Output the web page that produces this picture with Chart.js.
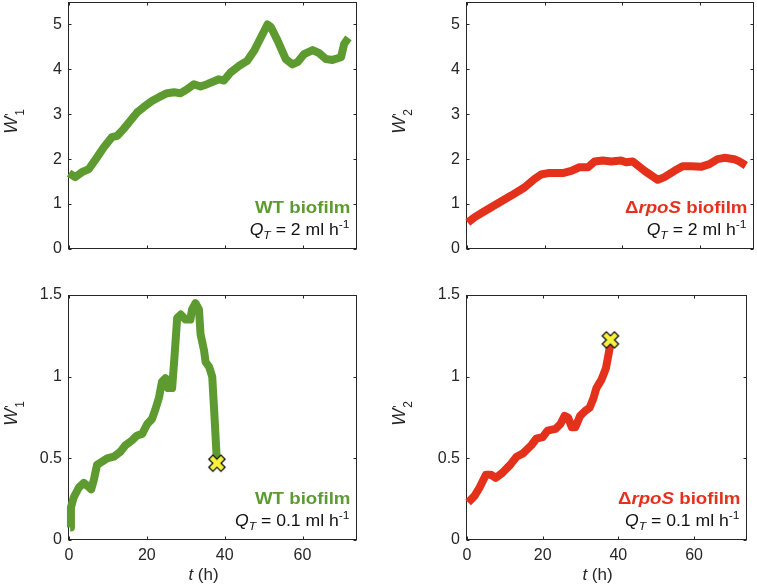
<!DOCTYPE html>
<html><head><meta charset="utf-8">
<script src="https://cdn.jsdelivr.net/npm/chart.js@4.4.1/dist/chart.umd.min.js"></script>
<style>
html,body{margin:0;padding:0;background:#fff;}
#wrap{position:relative;width:757px;height:584px;overflow:hidden;background:#fff;}
canvas{position:absolute;}
</style></head><body>
<div id="wrap">
<canvas id="c1" width="378" height="270" style="left:0;top:0"></canvas>
<canvas id="c2" width="379" height="270" style="left:378px;top:0"></canvas>
<canvas id="c3" width="378" height="314" style="left:0;top:270px"></canvas>
<canvas id="c4" width="379" height="314" style="left:378px;top:270px"></canvas>
</div>
<script>
// ---- tick labels ----
const tickT = [0, 20, 40, 60];
const tickWHigh = [0, 1, 2, 3, 4, 5];
const tickWLow = [0, 0.5, 1, 1.5];

// ---- WT biofilm, Q_T = 2 ml/h ----
const wtHighT = [0,1.6,3.3,5.1,7.2,8.9,11,12.4,14,15.8,17.5,19.2,21.4,23.1,25.2,27,28.7,30.4,32.1,33.8,35.5,38.5,39.8,41.5,43.7,45.8,47.6,49.3,51,51.9,53.6,55.7,57.4,58.7,60.4,62.6,64.3,66,67.7,69.9,70.7,71.8];
const wtHighW = [1.69,1.60,1.71,1.78,2.04,2.26,2.49,2.52,2.67,2.86,3.04,3.16,3.30,3.38,3.47,3.49,3.47,3.56,3.67,3.62,3.67,3.78,3.75,3.93,4.08,4.19,4.42,4.71,5.00,4.94,4.64,4.23,4.11,4.16,4.34,4.43,4.36,4.23,4.21,4.27,4.57,4.70];

// ---- ΔrpoS biofilm, Q_T = 2 ml/h ----
const rpoHighT = [0.2,2,4.5,8,11.4,14.8,17.4,19.1,20.9,24.7,26.9,29,31.2,32.9,35,37.2,39.7,41,42.7,45.8,49.2,50.9,53.5,55.6,57.8,60.3,62.5,64.6,66.4,68.9,70.2,71.9];
const rpoHighW = [0.59,0.71,0.84,1.02,1.19,1.37,1.56,1.66,1.69,1.69,1.74,1.82,1.82,1.95,1.97,1.95,1.97,1.93,1.95,1.74,1.54,1.60,1.74,1.84,1.84,1.83,1.89,2.00,2.03,2.00,1.95,1.86];

// ---- WT biofilm, Q_T = 0.1 ml/h ----
const wtLowT = [0.3,0.5,1.2,2.5,3.8,4.8,5.7,6.4,7.2,8.5,9.8,11.5,13.2,14.5,16.2,17.5,18.8,20.1,21.3,22.2,23.1,23.9,24.8,25.4,26.5,27.1,27.8,28.7,29.9,31.2,31.6,32.5,33.4,33.8,34.7,35.1,36,36.8,37.4,38.0];
const wtLowW = [0.077,0.20,0.26,0.32,0.35,0.33,0.31,0.37,0.46,0.48,0.50,0.51,0.54,0.58,0.61,0.64,0.65,0.71,0.74,0.80,0.87,0.97,0.99,0.93,0.93,1.12,1.36,1.38,1.35,1.35,1.41,1.45,1.41,1.26,1.16,1.09,1.06,1.00,0.75,0.48];
const wtLowEndT = [38];
const wtLowEndW = [0.47];

// ---- ΔrpoS biofilm, Q_T = 0.1 ml/h ----
const rpoLowT = [0.3,2,3.3,5,6.3,7.6,9.3,11.4,13.1,14.8,17,18.3,20,21.3,23.4,24.7,25.8,26.7,27.7,28.6,29.9,31.2,32.4,33.3,34.2,35.5,36.7,37.6,37.9];
const rpoLowW = [0.23,0.27,0.32,0.40,0.40,0.38,0.41,0.46,0.51,0.53,0.58,0.62,0.63,0.67,0.68,0.71,0.76,0.75,0.69,0.69,0.76,0.79,0.81,0.86,0.93,0.98,1.05,1.16,1.21];
const rpoLowEndT = [37.9];
const rpoLowEndW = [1.225];

const FAM = '"Liberation Sans", Arial, Helvetica, sans-serif';
const AX = '#262626';
const GREEN = '#5d9b30';
const RED = '#e4311c';

function makeXMarker() {
  const c = document.createElement('canvas');
  c.width = 22; c.height = 22;
  const g = c.getContext('2d');
  g.translate(11, 11);
  g.rotate(Math.PI / 4);
  const a = 8.6, b = 2.9;
  const pts = [[-b,-a],[b,-a],[b,-b],[a,-b],[a,b],[b,b],[b,a],[-b,a],[-b,b],[-a,b],[-a,-b],[-b,-b]];
  g.beginPath();
  pts.forEach((p, i) => i ? g.lineTo(p[0], p[1]) : g.moveTo(p[0], p[1]));
  g.closePath();
  g.fillStyle = '#f7f33c';
  g.fill();
  g.lineWidth = 1.3;
  g.strokeStyle = '#111';
  g.lineJoin = 'miter';
  g.stroke();
  return c;
}
const xMarker = makeXMarker();

function drawRuns(ctx, runs, xRight, yBase, stretch, color) {
  ctx.save();
  ctx.fillStyle = color;
  ctx.textBaseline = 'alphabetic';
  ctx.textAlign = 'left';
  let total = 0;
  runs.forEach(r => { ctx.font = r.font; r.w = ctx.measureText(r.text).width; total += r.w; });
  ctx.translate(xRight, yBase);
  ctx.scale(stretch, 1);
  let x = -total;
  runs.forEach(r => { ctx.font = r.font; ctx.fillText(r.text, x, r.dy || 0); x += r.w; });
  ctx.restore();
}

function makePanel(p) {
  const a = p.area;
  const yW = 45;
  const xH = p.xLabels ? 30 : 10;
  const datasets = [];
  if (p.endT) {
    datasets.push({
      data: p.endT.map((t, i) => ({ x: t, y: p.endW[i] })),
      showLine: false, pointStyle: xMarker, pointRadius: 9, clip: false
    });
  }
  datasets.push({
    data: p.t.map((t, i) => ({ x: t, y: p.w[i] })),
    borderColor: p.color, borderWidth: 8, pointRadius: 0, tension: 0,
    borderJoinStyle: 'round', borderCapStyle: 'butt', fill: false, clip: false
  });

  const panelPlugin = {
    id: 'panelDeco' + p.id,
    beforeDatasetsDraw(chart) {
      const ctx = chart.ctx, ca = chart.chartArea;
      const xs = chart.scales.x, ys = chart.scales.y;
      const L = Math.round(ca.left) - 0.5, R = Math.round(ca.right) - 0.5;
      const T = Math.round(ca.top) + 0.5, B = Math.round(ca.bottom) - 0.5;
      ctx.save();
      ctx.strokeStyle = AX; ctx.lineWidth = 1;
      ctx.strokeRect(L, T, R - L, B - T);
      ctx.beginPath();
      xs.ticks.forEach(tk => {
        const px = Math.round(xs.getPixelForValue(tk.value)) + 0.5;
        ctx.moveTo(px, B); ctx.lineTo(px, B - 3);
        ctx.moveTo(px, T); ctx.lineTo(px, T + 3);
      });
      ys.ticks.forEach(tk => {
        const py = Math.round(ys.getPixelForValue(tk.value)) + 0.5;
        ctx.moveTo(L, py); ctx.lineTo(L + 3, py);
        ctx.moveTo(R, py); ctx.lineTo(R - 3, py);
      });
      ctx.stroke();
      ctx.restore();
    },
    afterDraw(chart) {
      const ctx = chart.ctx, ca = chart.chartArea;
      // annotation
      const titleRuns = p.strain === 'wt'
        ? [{ text: 'WT biofilm', font: 'bold 17px ' + FAM }]
        : [{ text: 'Δ', font: 'bold 17px ' + FAM },
           { text: 'rpoS', font: 'italic bold 17px ' + FAM },
           { text: ' biofilm', font: 'bold 17px ' + FAM }];
      drawRuns(ctx, titleRuns, ca.right - 6.5, ca.bottom - 36, 1.1, p.color);
      const qRuns = [
        { text: 'Q', font: 'italic 16px ' + FAM },
        { text: 'T', font: 'italic 11px ' + FAM, dy: 4 },
        { text: ' = ' + p.q + ' ml h', font: '16px ' + FAM },
        { text: '-1', font: '11px ' + FAM, dy: -7 }
      ];
      drawRuns(ctx, qRuns, ca.right - 7.5, ca.bottom - 14, 1.1, '#111');

      // y title  W'_n
      ctx.save();
      ctx.fillStyle = AX;
      ctx.textBaseline = 'alphabetic';
      ctx.textAlign = 'left';
      ctx.translate(p.titleX, (ca.top + ca.bottom) / 2 - 4);
      ctx.rotate(-Math.PI / 2);
      ctx.font = 'italic 18px ' + FAM;
      const wW = ctx.measureText('W').width;
      ctx.font = '12px ' + FAM;
      const sW = Math.max(ctx.measureText(p.sub).width, ctx.measureText("'").width);
      const x0 = -(wW + 1 + sW) / 2;
      ctx.font = 'italic 18px ' + FAM;
      ctx.fillText('W', x0, 0);
      ctx.font = '12px ' + FAM;
      ctx.fillText("'", x0 + wW + 1, -3);
      ctx.fillText(p.sub, x0 + wW + 1, 7);
      ctx.restore();

      // x title
      if (p.xLabels) {
        const runs = [{ text: 't', font: 'italic 17px ' + FAM }, { text: ' (h)', font: '17px ' + FAM }];
        ctx.save();
        ctx.font = runs[0].font; const w1 = ctx.measureText('t').width;
        ctx.font = runs[1].font; const w2 = ctx.measureText(' (h)').width;
        ctx.restore();
        const cx = (ca.left + ca.right) / 2 - 9.5;
        drawRuns(ctx, runs, cx + (w1 + w2) / 2, ca.bottom + 40, 1, AX);
      }
    }
  };

  return new Chart(document.getElementById(p.id), {
    type: 'line',
    data: { datasets },
    options: {
      responsive: false, animation: false, events: [],
      layout: { padding: { left: a.left - yW, right: p.W - a.right, top: a.top, bottom: p.H - a.bottom - xH } },
      plugins: { legend: { display: false }, tooltip: { enabled: false }, title: { display: false } },
      scales: {
        x: {
          type: 'linear', min: 0, max: 74,
          grid: { display: false, drawTicks: false }, border: { display: false },
          afterBuildTicks: s => { s.ticks = tickT.map(v => ({ value: v })); },
          afterFit: s => { s.height = xH; s.paddingLeft = 0; s.paddingRight = 0; s.paddingTop = 0; s.paddingBottom = 0; },
          ticks: { display: p.xLabels, padding: 6, color: AX, font: { family: FAM, size: 16 }, maxRotation: 0, autoSkip: false, callback: v => String(v) }
        },
        y: {
          type: 'linear', min: 0, max: p.yMax,
          grid: { display: false, drawTicks: false }, border: { display: false },
          afterBuildTicks: s => { s.ticks = p.yTicks.map(v => ({ value: v })); },
          afterFit: s => { s.width = yW; s.paddingLeft = 0; s.paddingRight = 0; s.paddingTop = 0; s.paddingBottom = 0; },
          ticks: { padding: 7, color: AX, font: { family: FAM, size: 16 }, autoSkip: false, callback: v => String(v) }
        }
      }
    },
    plugins: [panelPlugin]
  });
}

makePanel({ id: 'c1', t: wtHighT, w: wtHighW, color: GREEN, yMax: 5.5, yTicks: tickWHigh, xLabels: false,
  area: { left: 69, right: 357, top: 2, bottom: 249 }, W: 378, H: 270, sub: '1', titleX: 16.7, strain: 'wt', q: '2' });
makePanel({ id: 'c2', t: rpoHighT, w: rpoHighW, color: RED, yMax: 5.5, yTicks: tickWHigh, xLabels: false,
  area: { left: 89, right: 376, top: 2, bottom: 249 }, W: 379, H: 270, sub: '2', titleX: 27, strain: 'rpo', q: '2' });
makePanel({ id: 'c3', t: wtLowT, w: wtLowW, color: GREEN, yMax: 1.5, yTicks: tickWLow, xLabels: true,
  endT: wtLowEndT, endW: wtLowEndW,
  area: { left: 69, right: 357, top: 25, bottom: 270 }, W: 378, H: 314, sub: '1', titleX: 16.7, strain: 'wt', q: '0.1' });
makePanel({ id: 'c4', t: rpoLowT, w: rpoLowW, color: RED, yMax: 1.5, yTicks: tickWLow, xLabels: true,
  endT: rpoLowEndT, endW: rpoLowEndW,
  area: { left: 89, right: 376, top: 25, bottom: 270 }, W: 379, H: 314, sub: '2', titleX: 27, strain: 'rpo', q: '0.1' });
</script>
</body></html>
